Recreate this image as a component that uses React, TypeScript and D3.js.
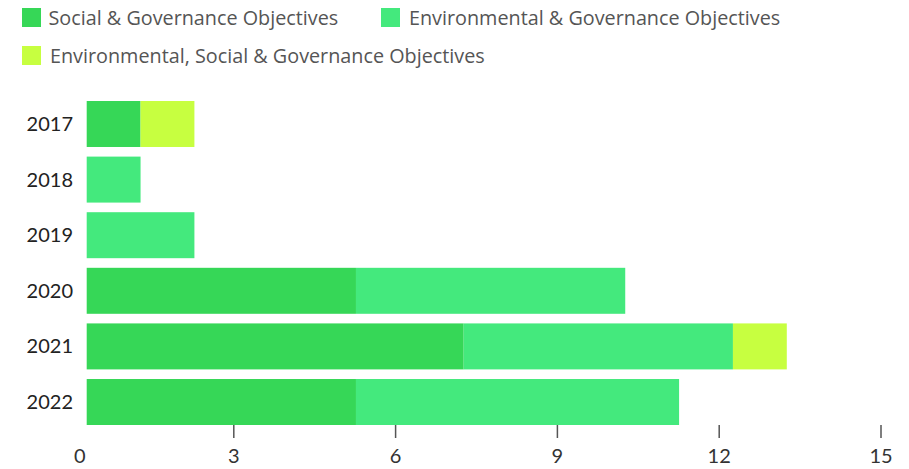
import React from "react";
import * as d3 from "d3";

const years = ["2017", "2018", "2019", "2020", "2021", "2022"];
const socialGov = [1, 0, 0, 5, 7, 5];
const envGov = [0, 1, 2, 5, 5, 6];
const envSocGov = [1, 0, 0, 0, 1, 0];
const seriesNames = [
  "Social & Governance Objectives",
  "Environmental & Governance Objectives",
  "Environmental, Social & Governance Objectives",
];
const seriesKeys = ["social", "env", "esg"];
const colors = ["#36d757", "#44e97d", "#c7ff40"];
const xTicks = [0, 3, 6, 9, 12, 15];

const W = 909;
const H = 469;
const FONT = "Lato, 'Noto Sans', sans-serif";
const LEGEND_FONT = "'Open Sans', 'Noto Sans', sans-serif";

export default function App() {
  const rows = years.map((y, i) => ({
    year: y,
    social: socialGov[i],
    env: envGov[i],
    esg: envSocGov[i],
  }));
  const stack = d3.stack<any>().keys(seriesKeys);
  const stacked = stack(rows);

  const x = d3.scaleLinear().domain([0, 15]).range([86.7, 894.5]);
  const xAxis = d3.scaleLinear().domain([0, 15]).range([72, 881]);
  const y = d3
    .scaleBand<string>()
    .domain(years)
    .range([101, 425])
    .paddingInner(0.173)
    .paddingOuter(0);

  const legend = [
    { x: 22, y: 8, tx: 48.5 },
    { x: 381, y: 8, tx: 409 },
    { x: 22, y: 46, tx: 50 },
  ];

  return (
    <svg
      width={W}
      height={H}
      style={{ position: "absolute", left: 0, top: 0, display: "block" }}
    >
      <rect width={W} height={H} fill="#fff" />
      {legend.map((l, i) => (
        <g key={i}>
          <rect x={l.x} y={l.y} width={19} height={19} fill={colors[i]} />
          <text
            x={l.tx}
            y={l.y + 10}
            dy="0.35em"
            fontFamily={LEGEND_FONT}
            fontSize={19.8}
            fill="#555"
          >
            {seriesNames[i]}
          </text>
        </g>
      ))}
      {stacked.map((s, si) => (
        <g key={si} fill={colors[si]}>
          {s.map((d, i) =>
            d[1] - d[0] > 0 ? (
              <rect
                key={i}
                x={x(d[0])}
                y={y(years[i])}
                width={x(d[1]) - x(d[0])}
                height={y.bandwidth()}
              />
            ) : null
          )}
        </g>
      ))}
      {years.map((yr) => (
        <text
          key={yr}
          x={73}
          y={(y(yr) as number) + y.bandwidth() / 2}
          dy="0.35em"
          textAnchor="end"
          fontFamily={FONT}
          fontSize={20}
          fill="#222"
        >
          {yr}
        </text>
      ))}
      {xTicks.map((t) => (
        <g key={t} transform={`translate(${xAxis(t)},0)`}>
          {t !== 0 && (
            <line y1={425} y2={438} stroke="#555" strokeWidth={1.5} />
          )}
          <text
            x={t === 0 ? 2 : 0}
            y={456}
            dy="0.35em"
            textAnchor={t === 0 ? "start" : "middle"}
            fontFamily={FONT}
            fontSize={20}
            fill="#333"
          >
            {t}
          </text>
        </g>
      ))}
    </svg>
  );
}
